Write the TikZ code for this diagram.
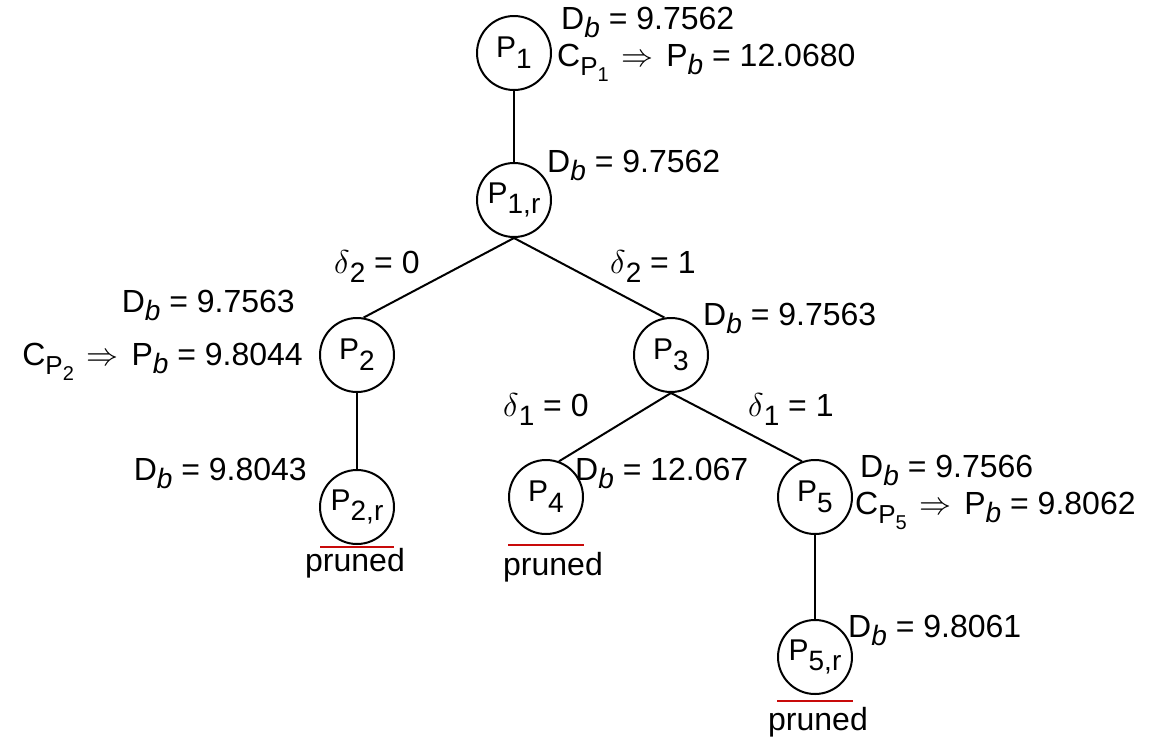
\RequirePackage{fix-cm}
\documentclass[tikz,border=0pt]{standalone}
\usepackage{fontspec}
\setmainfont{Liberation Sans}
\definecolor{prunered}{RGB}{200,10,10}
\newcommand{\nsub}[1]{\raisebox{-0.36em}{\fontsize{28}{28}\selectfont #1}}
\newcommand{\Db}{D\raisebox{-0.26em}{\fontsize{28}{28}\selectfont\itshape b}}
\newcommand{\Pbb}{P\raisebox{-0.26em}{\fontsize{28}{28}\selectfont\itshape b}}
\newcommand{\CP}[1]{C\raisebox{-0.3em}{\fontsize{26}{26}\selectfont P\raisebox{-0.22em}{\fontsize{20}{20}\selectfont #1}}}
\newcommand{\imp}{\hspace{0.4em}{\fontsize{32}{32}\selectfont$\Rightarrow$}\hspace{0.4em}}
\newcommand{\dl}[1]{{\fontsize{33}{33}\selectfont$\delta$}\raisebox{-0.3em}{\fontsize{28}{28}\selectfont #1}}
\begin{document}
\begin{tikzpicture}[x=1pt,y=-1pt,font=\fontsize{32}{38}\selectfont,
  pnode/.style={draw,circle,line width=2pt,minimum size=74pt,inner sep=0pt,font=\fontsize{30}{30}\selectfont},
  edge/.style={line width=2pt},
  prune/.style={line width=2.8pt,draw=prunered},
  lbl/.style={anchor=base west,inner sep=0pt},
  lblr/.style={anchor=base east,inner sep=0pt},
  txt/.style={inner sep=0pt}]
\useasboundingbox (0,0) rectangle (1160,740);
% tree nodes
\node[pnode] (P1)  at (514,53)  {P\nsub{1}};
\node[pnode] (P1r) at (514,200) {P\nsub{1,r}};
\node[pnode] (P2)  at (357,355) {P\nsub{2}};
\node[pnode] (P3)  at (671,355) {P\nsub{3}};
\node[pnode] (P2r) at (357,507) {P\nsub{2,r}};
\node[pnode] (P4)  at (546,497) {P\nsub{4}};
\node[pnode] (P5)  at (815,497) {P\nsub{5}};
\node[pnode] (P5r) at (815,657) {P\nsub{5,r}};
% connectors
\draw[edge] (P1) -- (P1r);
\draw[edge] (P1r.south) -- (P2.80);
\draw[edge] (P1r.south) -- (P3.100);
\draw[edge] (P2) -- (P2r);
\draw[edge] (P3.south) -- (P4.70);
\draw[edge] (P3.south) -- (P5.110);
\draw[edge] (P5) -- (P5r);
% pruned marks
\draw[prune] ([xshift=-37pt,yshift=-2pt]P2r.south) -- ([xshift=37pt,yshift=-2pt]P2r.south);
\draw[prune] ([xshift=-38pt,yshift=-10pt]P4.south) -- ([xshift=38pt,yshift=-10pt]P4.south);
\draw[prune] ([xshift=-38pt,yshift=-6pt]P5r.south) -- ([xshift=38pt,yshift=-6pt]P5r.south);
\node[txt] (pr2) at (355,563) {pruned};
\node[txt] (pr4) at (553,567) {pruned};
\node[txt] (pr5) at (818,722) {pruned};
% labels
\node[lbl] (l1) at (561,29) {\Db{} = 9.7562};
\node[lbl] (l2) at (557,66) {\CP{1}\imp\Pbb{} = 12.0680};
\node[lbl] (l3) at (547,172) {\Db{} = 9.7562};
\node[lbl] (d20) at (334,273) {\dl{2} = 0};
\node[lbl] (d21) at (610,273) {\dl{2} = 1};
\node[lblr] (l6) at (295,312) {\Db{} = 9.7563};
\node[lblr] (l7) at (303,365) {\CP{2}\imp\Pbb{} = 9.8044};
\node[lbl] (l8) at (703,325) {\Db{} = 9.7563};
\node[lbl] (d10) at (503,416) {\dl{1} = 0};
\node[lbl] (d11) at (748,416) {\dl{1} = 1};
\node[lblr] (l11) at (307,480) {\Db{} = 9.8043};
\node[lbl] (l12) at (575,480) {\Db{} = 12.067};
\node[lbl] (l13) at (860,477) {\Db{} = 9.7566};
\node[lbl] (l14) at (855,514) {\CP{5}\imp\Pbb{} = 9.8062};
\node[lbl] (l15) at (848,637) {\Db{} = 9.8061};
\end{tikzpicture}
\end{document}
